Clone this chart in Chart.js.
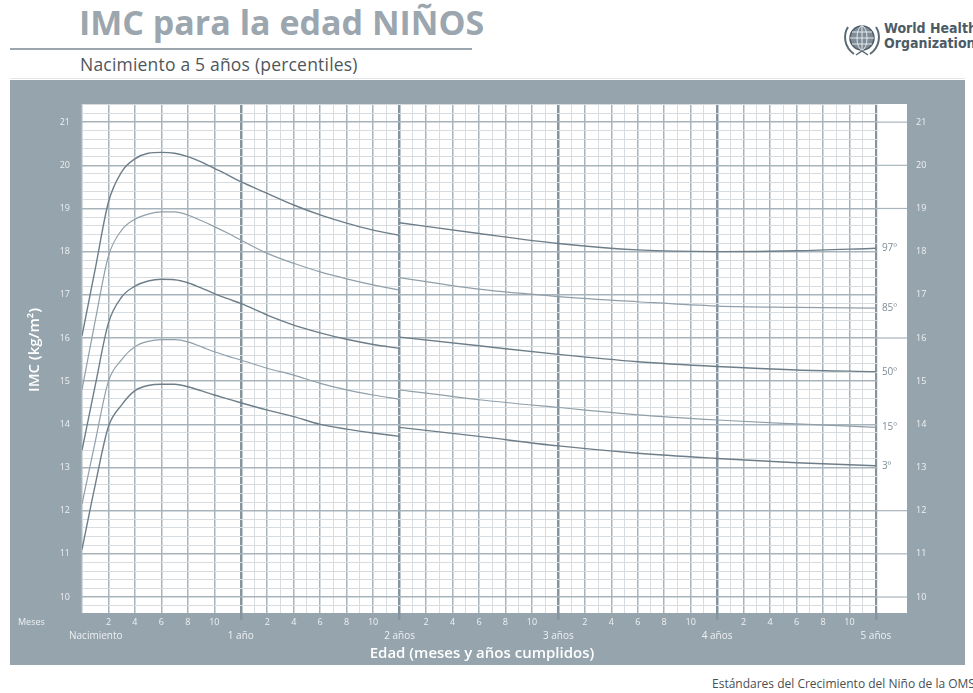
<!DOCTYPE html>
<html>
<head>
<meta charset="utf-8">
<script src="https://cdn.jsdelivr.net/npm/chart.js@4.4.1/dist/chart.umd.min.js"></script>
<style>
  body { margin: 0; width: 973px; height: 693px; overflow: hidden; background: #fff; position: relative; font-family: "Open Sans", sans-serif; }
  #title { position: absolute; left: 79px; top: -1px; font-weight: 700; font-size: 34px; color: #9ba6ae; white-space: nowrap; }
  #rule1 { position: absolute; left: 10px; top: 48px; width: 462px; height: 2px; background: #9ba6ae; }
  #subtitle { position: absolute; left: 80px; top: 52px; font-size: 17.5px; color: #4f565b; white-space: nowrap; letter-spacing: 0.2px; }
  #rule2 { position: absolute; left: 10px; top: 78px; width: 955px; height: 1px; background: #e4e7e9; }
  #logo { position: absolute; left: 842px; top: 17px; }
  #who { position: absolute; left: 884px; top: 21px; font-family: "DejaVu Sans Condensed", "DejaVu Sans", sans-serif; font-weight: 700; font-size: 14px; line-height: 15px; color: #4c5b66; white-space: nowrap; }
  #wrap { position: absolute; left: 10px; top: 80px; width: 955px; height: 585px; }
  #footer { position: absolute; left: 712px; top: 675px; font-size: 12px; color: #4a4f53; white-space: nowrap; }
</style>
</head>
<body>
<div id="title">IMC para la edad NIÑOS</div>
<div id="rule1"></div>
<div id="subtitle">Nacimiento a 5 años (percentiles)</div>
<div id="rule2"></div>
<svg id="logo" width="40" height="42" viewBox="0 0 40 42">
  <g fill="none" stroke="#5a6a75" stroke-width="2">
    <path d="M6 10 C1 18 2 30 12 37" />
    <path d="M34 10 C39 18 38 30 28 37" />
  </g>
  <circle cx="20" cy="21" r="12" fill="#7d8c96" stroke="#4c5b66" stroke-width="1.5"/>
  <g fill="none" stroke="#e5e9ec" stroke-width="1">
    <ellipse cx="20" cy="21" rx="5" ry="12"/>
    <line x1="8" y1="21" x2="32" y2="21"/>
    <line x1="10" y1="15" x2="30" y2="15"/>
    <line x1="10" y1="27" x2="30" y2="27"/>
    <line x1="20" y1="8" x2="20" y2="34"/>
  </g>
  <path d="M14 38 L20 34 L26 38" fill="none" stroke="#5a6a75" stroke-width="1.5"/>
</svg>
<div id="who">World Health<br>Organization</div>
<div id="wrap"><canvas id="imcChart"></canvas></div>
<div id="footer">Estándares del Crecimiento del Niño de la OMS</div>

<script>
// Edad en meses (0-24 medido acostado, 24-60 medido de pie)
const monthsA = [0, 1, 2, 3, 4, 5, 6, 7, 8, 9, 10, 11, 12, 14, 16, 18, 20, 22, 24];
const monthsB = [24, 30, 36, 42, 48, 54, 60];

// Percentiles de IMC (kg/m2), nacimiento a 2 años
const p97A = [16.05, 17.6, 19.15, 19.85, 20.15, 20.28, 20.3, 20.28, 20.2, 20.08, 19.93, 19.78, 19.62, 19.35, 19.08, 18.85, 18.66, 18.5, 18.38];
const p85A = [14.8, 16.4, 17.9, 18.5, 18.75, 18.87, 18.92, 18.92, 18.85, 18.72, 18.58, 18.43, 18.27, 17.96, 17.73, 17.53, 17.37, 17.23, 17.11];
const p50A = [13.4, 14.9, 16.35, 16.95, 17.2, 17.32, 17.36, 17.35, 17.28, 17.16, 17.03, 16.91, 16.8, 16.53, 16.3, 16.12, 15.97, 15.85, 15.76];
const p15A = [12.15, 13.6, 15.0, 15.5, 15.8, 15.92, 15.96, 15.96, 15.91, 15.8, 15.68, 15.58, 15.49, 15.3, 15.14, 14.95, 14.8, 14.68, 14.58];
const p3A  = [11.1, 12.6, 13.95, 14.45, 14.78, 14.9, 14.93, 14.93, 14.87, 14.78, 14.68, 14.59, 14.5, 14.33, 14.18, 14.0, 13.89, 13.8, 13.72];

// Percentiles de IMC (kg/m2), 2 a 5 años
const p97B = [18.67, 18.42, 18.19, 18.04, 18.0, 18.02, 18.08];
const p85B = [17.4, 17.13, 16.96, 16.84, 16.74, 16.71, 16.69];
const p50B = [16.02, 15.82, 15.62, 15.45, 15.34, 15.26, 15.22];
const p15B = [14.8, 14.57, 14.39, 14.22, 14.1, 14.01, 13.93];
const p3B  = [13.93, 13.72, 13.5, 13.33, 13.21, 13.11, 13.04];

const percentileNames = ["97º", "85º", "50º", "15º", "3º"];
const yTickLabels = [10, 11, 12, 13, 14, 15, 16, 17, 18, 19, 20, 21];
const monthTickLabels = ["2", "4", "6", "8", "10"];
const yearLabels = ["Nacimiento", "1 año", "2 años", "3 años", "4 años", "5 años"];

const GRAY = "#96a4ad";
const DARK = "#8595a0";
const MED = "#a8b4bc";
const LIGHT = "#d6dce0";
const CURVE_DARK = "#6e7e89";
const CURVE_LIGHT = "#919fa9";

const seriesA = [p97A, p85A, p50A, p15A, p3A];
const seriesB = [p97B, p85B, p50B, p15B, p3B];

const datasets = [];
seriesA.forEach((vals, i) => {
  const dark = i % 2 === 0;
  [[monthsA, vals], [monthsB, seriesB[i]]].forEach(([xs, ys]) => {
    datasets.push({
      label: percentileNames[i],
      data: xs.map((m, k) => ({ x: m, y: ys[k] })),
      borderColor: dark ? CURVE_DARK : CURVE_LIGHT,
      borderWidth: dark ? 1.4 : 1.2,
      pointRadius: 0,
      fill: false,
      cubicInterpolationMode: "monotone"
    });
  });
});

function isInt(v) {
  return Math.abs(v - Math.round(v)) < 1e-6;
}

const panelPlugin = {
  id: "panel",
  beforeDraw(chart) {
    const { ctx, chartArea } = chart;
    ctx.save();
    ctx.fillStyle = GRAY;
    ctx.fillRect(0, 0, chart.width, chart.height);
    ctx.fillStyle = "#fff";
    ctx.fillRect(chartArea.left, chartArea.top, chartArea.right - chartArea.left, chartArea.bottom - chartArea.top);
    ctx.restore();
  },
  beforeDatasetsDraw(chart) {
    // blank column to the right of 5 años, for the percentile names
    const { ctx, chartArea, scales } = chart;
    const x60 = scales.x.getPixelForValue(60);
    ctx.save();
    ctx.fillStyle = "#fff";
    ctx.fillRect(x60 + 1.5, chartArea.top, chartArea.right - x60 - 1.5, chartArea.bottom - chartArea.top);
    const ends = seriesB.map(s => s[s.length - 1]);
    ctx.strokeStyle = MED;
    ctx.lineWidth = 1.2;
    yTickLabels.forEach(v => {
      if (ends.some(e => Math.abs(e - v) < 0.5)) return;
      const y = scales.y.getPixelForValue(v);
      ctx.beginPath();
      ctx.moveTo(x60, y);
      ctx.lineTo(chartArea.right, y);
      ctx.stroke();
    });
    ctx.restore();
  },
  afterDraw(chart) {
    const { ctx, chartArea, scales } = chart;
    const xs = scales.x, ys = scales.y;
    ctx.save();
    ctx.fillStyle = "#eef1f3";
    ctx.textBaseline = "middle";
    ctx.font = "9px 'Open Sans', sans-serif";
    ctx.textAlign = "center";
    const rowMonths = chartArea.bottom + 9;
    const rowYears = chartArea.bottom + 23;
    for (let yr = 0; yr < 5; yr++) {
      monthTickLabels.forEach((lab, k) => {
        ctx.fillText(lab, xs.getPixelForValue(yr * 12 + (k + 1) * 2), rowMonths);
      });
    }
    ctx.textAlign = "left";
    ctx.fillText("Meses", 8, rowMonths);
    ctx.font = "10px 'Open Sans', sans-serif";
    yearLabels.forEach((lab, i) => {
      const x = xs.getPixelForValue(i * 12);
      if (i === 0) {
        ctx.textAlign = "left";
        ctx.fillText(lab, x - 13, rowYears);
      } else {
        ctx.textAlign = "center";
        ctx.fillText(lab, x, rowYears);
      }
    });

    // axis titles
    ctx.fillStyle = "#ffffff";
    ctx.font = "600 15px 'Open Sans', sans-serif";
    ctx.textAlign = "center";
    const midX = (xs.getPixelForValue(0) + xs.getPixelForValue(60)) / 2;
    ctx.fillText("Edad (meses y años cumplidos)", midX + 3, chartArea.bottom + 41);
    ctx.save();
    ctx.translate(25, 270);
    ctx.rotate(-Math.PI / 2);
    ctx.fillText("IMC (kg/m²)", 0, 0);
    ctx.restore();

    // percentile names at the end of each curve
    ctx.fillStyle = "#7f8d97";
    ctx.font = "10px 'Open Sans', sans-serif";
    ctx.textAlign = "left";
    const x60 = xs.getPixelForValue(60);
    seriesB.forEach((s, i) => {
      ctx.fillText(percentileNames[i], x60 + 6, ys.getPixelForValue(s[s.length - 1]));
    });
    ctx.restore();
  }
};

const ctx = document.getElementById("imcChart").getContext("2d");
const imcChart = new Chart(ctx, {
  type: "line",
  data: { datasets: datasets },
  options: {
    responsive: true,
    maintainAspectRatio: false,
    animation: false,
    layout: { padding: { top: 24, left: 0, right: 0, bottom: 0 } },
    plugins: { legend: { display: false }, tooltip: { enabled: false } },
    scales: {
      x: {
        type: "linear",
        min: 0,
        max: 62.35,
        afterBuildTicks(scale) {
          const t = [];
          for (let m = 0; m <= 60; m++) t.push({ value: m });
          scale.ticks = t;
        },
        afterFit(scale) {
          scale.height = 52;
          scale.paddingLeft = 0;
          scale.paddingRight = 0;
        },
        ticks: { display: false },
        border: { display: false },
        grid: {
          drawTicks: true,
          tickLength: 7,
          tickColor(c) {
            const v = c.tick ? c.tick.value : 0;
            return v > 0 && v % 12 === 0 ? DARK : "rgba(0,0,0,0)";
          },
          color(c) {
            const v = c.tick ? c.tick.value : 0;
            if (v === 0) return MED;
            if (v % 12 === 0) return DARK;
            if (v % 2 === 0) return MED;
            if (v < 12) return "rgba(0,0,0,0)";
            return LIGHT;
          },
          lineWidth(c) {
            const v = c.tick ? c.tick.value : 0;
            if (v === 0) return 1.5;
            if (v % 12 === 0) return 2.5;
            if (v % 2 === 0) return 1.5;
            return 1;
          }
        }
      },
      y: {
        type: "linear",
        position: "left",
        min: 9.63,
        max: 21.42,
        afterBuildTicks(scale) {
          const t = [];
          for (let k = 49; k <= 107; k++) t.push({ value: k / 5 });
          scale.ticks = t;
        },
        afterFit(scale) {
          scale.width = 72;
          scale.paddingTop = 0;
          scale.paddingBottom = 0;
        },
        border: { display: false },
        ticks: {
          autoSkip: false,
          padding: 12,
          color: "#eef1f3",
          font: { size: 9, family: "'Open Sans', sans-serif" },
          callback: v => (isInt(v) ? String(Math.round(v)) : "")
        },
        grid: {
          drawTicks: false,
          color: c => (isInt(c.tick.value) ? MED : LIGHT),
          lineWidth: c => (isInt(c.tick.value) ? 1.5 : 1)
        }
      },
      y2: {
        type: "linear",
        position: "right",
        min: 9.63,
        max: 21.42,
        afterBuildTicks(scale) {
          scale.ticks = yTickLabels.map(v => ({ value: v }));
        },
        afterFit(scale) {
          scale.width = 58;
          scale.paddingTop = 0;
          scale.paddingBottom = 0;
        },
        border: { display: false },
        ticks: {
          autoSkip: false,
          padding: 9,
          color: "#eef1f3",
          font: { size: 9, family: "'Open Sans', sans-serif" },
          callback: v => String(v)
        },
        grid: { display: false, drawTicks: false }
      }
    }
  },
  plugins: [panelPlugin]
});
</script>
</body>
</html>
